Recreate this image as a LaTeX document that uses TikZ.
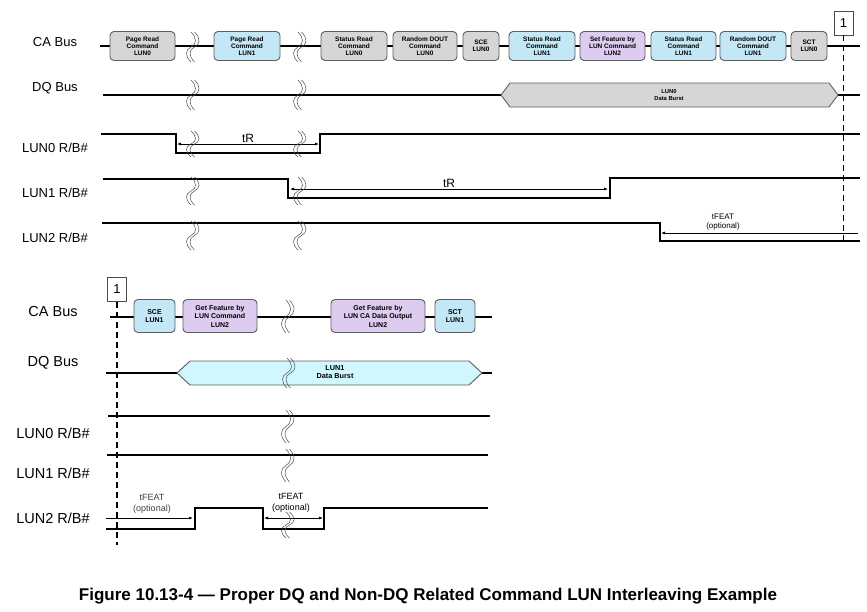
\documentclass[tikz,border=0pt]{standalone}
\usepackage{fontspec}
\setmainfont{Liberation Sans}
\usetikzlibrary{arrows.meta}
\tikzset{>={Latex[width=3pt,length=4pt]}}

\definecolor{cmdgray}{HTML}{D6D6D6}
\definecolor{cmdblue}{HTML}{C4E7F6}
\definecolor{cmdpurple}{HTML}{DDCCF0}
\definecolor{burstcyan}{HTML}{D0F7FD}
\definecolor{edgegray}{HTML}{5E5E5E}

\tikzset{
  cmd/.style={draw=edgegray, line width=0.9pt, rounded corners=4pt, align=center,
    inner sep=0pt, minimum height=29pt, font=\bfseries\fontsize{6.5}{6.8}\selectfont},
  cmdlow/.style={cmd, minimum height=33pt, font=\bfseries\fontsize{7}{8.5}\selectfont},
  sig/.style={line width=1.1pt},
  burst/.style={draw=edgegray, line width=0.9pt},
  brk/.style={line width=0.5pt, draw=black!70},
  signame/.style={font=\fontsize{13}{15}\selectfont},
  signamelow/.style={font=\fontsize{14.5}{16}\selectfont},
  numbox/.style={draw=black!70, line width=0.7pt, minimum width=19pt, minimum height=24pt,
    inner sep=0pt, font=\fontsize{13}{15}\selectfont},
  marker/.style={dashed, line width=1.1pt, dash pattern=on 6pt off 4pt}
}

\begin{document}
\begin{tikzpicture}[x=1pt, y=-1pt]
  \useasboundingbox (0,0) rectangle (867,611);

  % break mark: x, top, bottom
  \newcommand\Brk[3]{%
    \foreach \dx in {0,3.5}{
      \draw[brk] ({#1+\dx},#2) .. controls ({#1+\dx+6},{#2+(#3-#2)*0.2}) and ({#1+\dx+6},{#2+(#3-#2)*0.4})
        .. ({#1+\dx},{(#2+#3)/2}) .. controls ({#1+\dx-6},{#2+(#3-#2)*0.6}) and ({#1+\dx-6},{#2+(#3-#2)*0.8})
        .. ({#1+\dx},#3);
    }}

  %% ---------------- upper part ----------------
  \node[signame] (caname) at (55,42) {CA Bus};
  \node[signame] (dqname) at (55,88) {DQ Bus};
  \node[signame] (l0name) at (55,148) {LUN0 R/B\#};
  \node[signame] (l1name) at (55,193) {LUN1 R/B\#};
  \node[signame] (l2name) at (55,238) {LUN2 R/B\#};

  % CA bus
  \coordinate (caA) at (100,46);
  \coordinate (caB) at (860,46);
  \draw[sig] (caA) -- (caB);
  \node[cmd, fill=cmdgray,   minimum width=65] (pr0)  at (142.5,46) {Page Read\\Command\\LUN0};
  \node[cmd, fill=cmdblue,   minimum width=66] (pr1)  at (247,46)   {Page Read\\Command\\LUN1};
  \node[cmd, fill=cmdgray,   minimum width=66] (sr0)  at (354,46)   {Status Read\\Command\\LUN0};
  \node[cmd, fill=cmdgray,   minimum width=64] (rd0)  at (425,46)   {Random DOUT\\Command\\LUN0};
  \node[cmd, fill=cmdgray,   minimum width=36] (sce0) at (481,46)   {SCE\\LUN0};
  \node[cmd, fill=cmdblue,   minimum width=66] (sr1)  at (542,46)   {Status Read\\Command\\LUN1};
  \node[cmd, fill=cmdpurple, minimum width=65] (sf2)  at (612.5,46) {Set Feature by\\LUN Command\\LUN2};
  \node[cmd, fill=cmdblue,   minimum width=65] (sr1b) at (683.5,46) {Status Read\\Command\\LUN1};
  \node[cmd, fill=cmdblue,   minimum width=66] (rd1)  at (753,46)   {Random DOUT\\Command\\LUN1};
  \node[cmd, fill=cmdgray,   minimum width=36] (sct0) at (809,46)   {SCT\\LUN0};
  \Brk{191}{32}{62}
  \Brk{298}{32}{62}

  % DQ bus
  \coordinate (dqA) at (103,95);
  \coordinate (dqB) at (860,95);
  \draw[sig] (dqA) -- (dqB);
  \draw[burst, fill=cmdgray] (501,95) -- (510,83) -- (829,83) -- (838,95) -- (829,107) -- (510,107) -- cycle;
  \node[align=center, font=\bfseries\fontsize{5.8}{7}\selectfont] (b0) at (669,95) {LUN0\\Data Burst};
  \Brk{191}{80}{110}
  \Brk{298}{80}{110}

  % LUN0 R/B#
  \draw[sig] (101,134) -- (176,134) -- (176,153) -- (320,153) -- (320,134) -- (860,134);
  \coordinate (tr0a) at (177,144);
  \coordinate (tr0b) at (319,144);
  \draw[<->, line width=0.7pt] (tr0a) -- node[above, inner sep=1pt, font=\fontsize{12}{14}\selectfont]{tR} (tr0b);
  \Brk{191}{131}{157}
  \Brk{298}{131}{157}

  % LUN1 R/B#
  \draw[sig] (103,179) -- (288,179) -- (288,198) -- (610,198) -- (610,178) -- (860,178);
  \coordinate (tr1a) at (290,189);
  \coordinate (tr1b) at (608,189);
  \draw[<->, line width=0.7pt] (tr1a) -- node[above, inner sep=1pt, font=\fontsize{12}{14}\selectfont]{tR} (tr1b);
  \Brk{191}{177}{205}
  \Brk{298}{177}{205}

  % LUN2 R/B#
  \draw[sig] (102,223) -- (660,223) -- (660,241) -- (860,241);
  \coordinate (tf0a) at (858,233);
  \coordinate (tf0b) at (661,233);
  \draw[->, line width=0.7pt] (tf0a) -- (tf0b);
  \node[align=center, font=\fontsize{8}{9.5}\selectfont] (tf0) at (723,222) {tFEAT\\(optional)};
  \Brk{191}{221}{250}
  \Brk{298}{221}{250}

  % marker 1
  \node[numbox, fill=white] (m1) at (843.5,23) {1};
  \coordinate (m1end) at (843.5,245);
  \draw[marker] (m1.south) -- (m1end);

  %% ---------------- lower part ----------------
  \node[signamelow] (caname2) at (53,312) {CA Bus};
  \node[signamelow] (dqname2) at (53,363) {DQ Bus};
  \node[signamelow] (l0name2) at (53,433) {LUN0 R/B\#};
  \node[signamelow] (l1name2) at (53,473) {LUN1 R/B\#};
  \node[signamelow] (l2name2) at (53,518) {LUN2 R/B\#};

  % CA bus
  \coordinate (ca2A) at (110,317);
  \coordinate (ca2B) at (492,317);
  \draw[sig] (ca2A) -- (ca2B);
  \node[cmdlow, fill=cmdblue,   minimum width=41] (sce1) at (154.5,316) {SCE\\LUN1};
  \node[cmdlow, fill=cmdpurple, minimum width=74] (gf2)  at (220,316)   {Get Feature by\\LUN Command\\LUN2};
  \node[cmdlow, fill=cmdpurple, minimum width=94] (gfo2) at (378,316)   {Get Feature by\\LUN CA Data Output\\LUN2};
  \node[cmdlow, fill=cmdblue,   minimum width=40] (sct1) at (455,316)   {SCT\\LUN1};
  \Brk{286}{300}{333}

  % DQ bus
  \coordinate (dq2A) at (106,373);
  \coordinate (dq2B) at (492,373);
  \draw[sig] (dq2A) -- (dq2B);
  \draw[burst, fill=burstcyan] (177,373) -- (190,361) -- (469,361) -- (482,373) -- (469,385) -- (190,385) -- cycle;
  \node[align=center, font=\bfseries\fontsize{7.3}{8.6}\selectfont] (b1) at (335,372) {LUN1\\Data Burst};
  \Brk{287}{358}{388}

  % LUN0 / LUN1 R/B#
  \coordinate (l0A) at (108,416);
  \coordinate (l0B) at (490,416);
  \draw[sig] (l0A) -- (l0B);
  \Brk{286}{410}{443}
  \coordinate (l1A) at (107,455);
  \coordinate (l1B) at (488,455);
  \draw[sig] (l1A) -- (l1B);
  \Brk{286}{449}{482}

  % LUN2 R/B#
  \draw[sig] (106,529) -- (195,529) -- (195,508) -- (263,508) -- (263,529) -- (324,529) -- (324,508) -- (488,508);
  \coordinate (tf1a) at (106,518);
  \coordinate (tf1b) at (193,518);
  \draw[->, line width=0.7pt] (tf1a) -- (tf1b);
  \node[align=center, font=\fontsize{9}{10.5}\selectfont, text=black!75] (tf1) at (152,504) {tFEAT\\(optional)};
  \coordinate (tf2a) at (264,518);
  \coordinate (tf2b) at (323,518);
  \draw[<->, line width=0.7pt] (tf2a) -- (tf2b);
  \Brk{286}{512}{538}
  \node[align=center, font=\fontsize{9}{10.5}\selectfont] (tf2) at (291,503) {tFEAT\\(optional)};

  % marker 1
  \node[numbox, fill=white] (m2) at (117,289.5) {1};
  \coordinate (m2end) at (117,545);
  \draw[marker] (m2.south) -- (m2end);

  %% caption
  \node[font=\bfseries\fontsize{17}{19}\selectfont] (cap) at (428,596)
    {Figure 10.13-4 — Proper DQ and Non-DQ Related Command LUN Interleaving Example};
\end{tikzpicture}
\end{document}
